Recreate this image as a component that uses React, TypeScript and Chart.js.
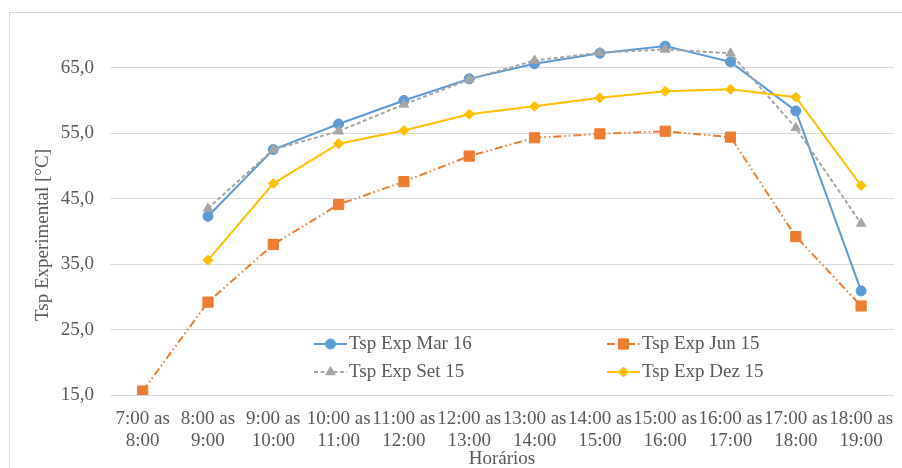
import React, { useEffect, useRef } from "react";
import { Chart, registerables } from "chart.js";
import { drawPoint } from "chart.js/helpers";

Chart.register(...registerables);

// Hourly intervals shown on the category axis (two lines each)
const horarios: string[][] = [
  ["7:00 as", "8:00"],
  ["8:00 as", "9:00"],
  ["9:00 as", "10:00"],
  ["10:00 as", "11:00"],
  ["11:00 as", "12:00"],
  ["12:00 as", "13:00"],
  ["13:00 as", "14:00"],
  ["14:00 as", "15:00"],
  ["15:00 as", "16:00"],
  ["16:00 as", "17:00"],
  ["17:00 as", "18:00"],
  ["18:00 as", "19:00"],
];

// Experimental surface temperature series [°C]
const tspMar16 = [null, 42.3, 52.5, 56.4, 60.0, 63.3, 65.6, 67.2, 68.3, 65.9, 58.4, 30.9];
const tspJun15 = [15.6, 29.2, 38.0, 44.1, 47.6, 51.5, 54.3, 54.9, 55.3, 54.4, 39.2, 28.6];
const tspSet15 = [null, 43.5, 52.5, 55.3, 59.4, 63.2, 66.1, 67.3, 67.8, 67.2, 55.8, 41.2];
const tspDez15 = [null, 35.6, 47.3, 53.4, 55.4, 57.9, 59.1, 60.4, 61.4, 61.7, 60.5, 47.0];

const seriesNames = ["Tsp Exp Mar 16", "Tsp Exp Jun 15", "Tsp Exp Set 15", "Tsp Exp Dez 15"];

// Value axis
const yTicks = [15, 25, 35, 45, 55, 65];
const yMin = 15;
const yMax = 70;

const xTitle = "Horários";
const yTitle = "Tsp Experimental [°C]";

const FONT = "'Liberation Serif', 'Times New Roman', serif";
const TEXT = "#595959";

// White background plus the light outer frame of the chart
const framePlugin = {
  id: "frame",
  beforeDraw(chart: any) {
    const { ctx, width, height } = chart;
    ctx.save();
    ctx.fillStyle = "#ffffff";
    ctx.fillRect(0, 0, width, height);
    ctx.strokeStyle = "#d9d9d9";
    ctx.lineWidth = 1;
    ctx.strokeRect(9.5, 12.5, width, height);
    ctx.restore();
  },
};

// Rotated value-axis title
const yTitlePlugin = {
  id: "yTitle",
  afterDraw(chart: any) {
    const { ctx } = chart;
    ctx.save();
    ctx.translate(43, 235);
    ctx.rotate(-Math.PI / 2);
    ctx.font = `19px ${FONT}`;
    ctx.fillStyle = TEXT;
    ctx.textAlign = "center";
    ctx.textBaseline = "middle";
    ctx.fillText(yTitle, 0, 0);
    ctx.restore();
  },
};

// Two-column legend placed inside the plot area
const innerLegendPlugin = {
  id: "innerLegend",
  afterDatasetsDraw(chart: any) {
    const { ctx, chartArea } = chart;
    const cols = [chartArea.left + 204, chartArea.left + 497];
    const rows = [chartArea.bottom - 51, chartArea.bottom - 23];
    const segment = 33;
    chart.data.datasets.forEach((ds: any, i: number) => {
      const x = cols[i % 2];
      const y = rows[Math.floor(i / 2)];
      ctx.save();
      ctx.strokeStyle = ds.borderColor;
      ctx.lineWidth = ds.borderWidth;
      ctx.setLineDash(ds.borderDash || []);
      ctx.beginPath();
      ctx.moveTo(x, y);
      ctx.lineTo(x + segment, y);
      ctx.stroke();
      ctx.setLineDash([]);
      ctx.fillStyle = ds.pointBackgroundColor;
      ctx.strokeStyle = ds.pointBorderColor;
      ctx.lineWidth = ds.pointBorderWidth;
      drawPoint(
        ctx,
        { pointStyle: ds.pointStyle, radius: ds.pointRadius, borderWidth: ds.pointBorderWidth, rotation: 0 } as any,
        x + segment / 2,
        y
      );
      ctx.font = `19px ${FONT}`;
      ctx.fillStyle = TEXT;
      ctx.textAlign = "left";
      ctx.textBaseline = "middle";
      ctx.fillText(seriesNames[i], x + segment + 2, y);
      ctx.restore();
    });
  },
};

export default function App() {
  const canvasRef = useRef<HTMLCanvasElement | null>(null);

  useEffect(() => {
    const canvas = canvasRef.current;
    if (!canvas) return;

    const chart = new Chart(canvas, {
      type: "line",
      data: {
        labels: horarios,
        datasets: [
          {
            label: seriesNames[0],
            data: tspMar16,
            borderColor: "#5B9BD5",
            borderWidth: 2,
            pointStyle: "circle",
            pointRadius: 5,
            pointBackgroundColor: "#5B9BD5",
            pointBorderColor: "#5B9BD5",
            pointBorderWidth: 1,
            tension: 0,
            order: 4,
          },
          {
            label: seriesNames[1],
            data: tspJun15,
            borderColor: "#ED7D31",
            borderWidth: 2,
            borderDash: [8, 3, 1.5, 3, 1.5, 3],
            pointStyle: "rect",
            pointRadius: 7.2,
            pointBackgroundColor: "#ED7D31",
            pointBorderColor: "#ED7D31",
            pointBorderWidth: 1,
            tension: 0,
            order: 3,
          },
          {
            label: seriesNames[2],
            data: tspSet15,
            borderColor: "#A5A5A5",
            borderWidth: 2,
            borderDash: [4, 2.5],
            pointStyle: "triangle",
            pointRadius: 5.5,
            pointBackgroundColor: "#A5A5A5",
            pointBorderColor: "#A5A5A5",
            pointBorderWidth: 1,
            tension: 0,
            order: 2,
          },
          {
            label: seriesNames[3],
            data: tspDez15,
            borderColor: "#FFC000",
            borderWidth: 2,
            pointStyle: "rectRot",
            pointRadius: 5,
            pointBackgroundColor: "#FFC000",
            pointBorderColor: "#FFC000",
            pointBorderWidth: 1,
            tension: 0,
            order: 1,
          },
        ],
      },
      options: {
        responsive: false,
        animation: false,
        layout: { padding: { top: 35, right: 7, left: 0, bottom: 0 } },
        plugins: {
          legend: { display: false },
          tooltip: { enabled: false },
        },
        scales: {
          x: {
            type: "category",
            offset: true,
            grid: { display: false, drawTicks: false },
            border: { display: false },
            ticks: {
              autoSkip: false,
              maxRotation: 0,
              minRotation: 0,
              padding: 13,
              color: TEXT,
              font: { family: FONT, size: 19, lineHeight: 1.15 },
            },
            title: {
              display: true,
              text: xTitle,
              color: TEXT,
              padding: 0,
              font: { family: FONT, size: 19, lineHeight: 0.92 },
            },
            afterFit: (scale: any) => {
              scale.height = 73;
              scale.paddingLeft = 0;
              scale.paddingRight = 0;
            },
          },
          y: {
            type: "linear",
            min: yMin,
            max: yMax,
            grid: { color: "#d9d9d9", lineWidth: 1, drawTicks: false },
            border: { display: false },
            ticks: {
              padding: 16,
              color: TEXT,
              font: { family: FONT, size: 19 },
              callback: (v: any) => Number(v).toFixed(1).replace(".", ","),
            },
            afterBuildTicks: (scale: any) => {
              scale.ticks = yTicks.map((v) => ({ value: v }));
            },
            afterFit: (scale: any) => {
              scale.width = 110;
              scale.paddingTop = 0;
              scale.paddingBottom = 0;
            },
          },
        },
      },
      plugins: [framePlugin, innerLegendPlugin, yTitlePlugin],
    } as any);

    return () => chart.destroy();
  }, []);

  return (
    <div style={{ position: "absolute", left: 0, top: 0, width: 902, height: 468 }}>
      <canvas ref={canvasRef} width={902} height={468} style={{ display: "block" }} />
    </div>
  );
}
